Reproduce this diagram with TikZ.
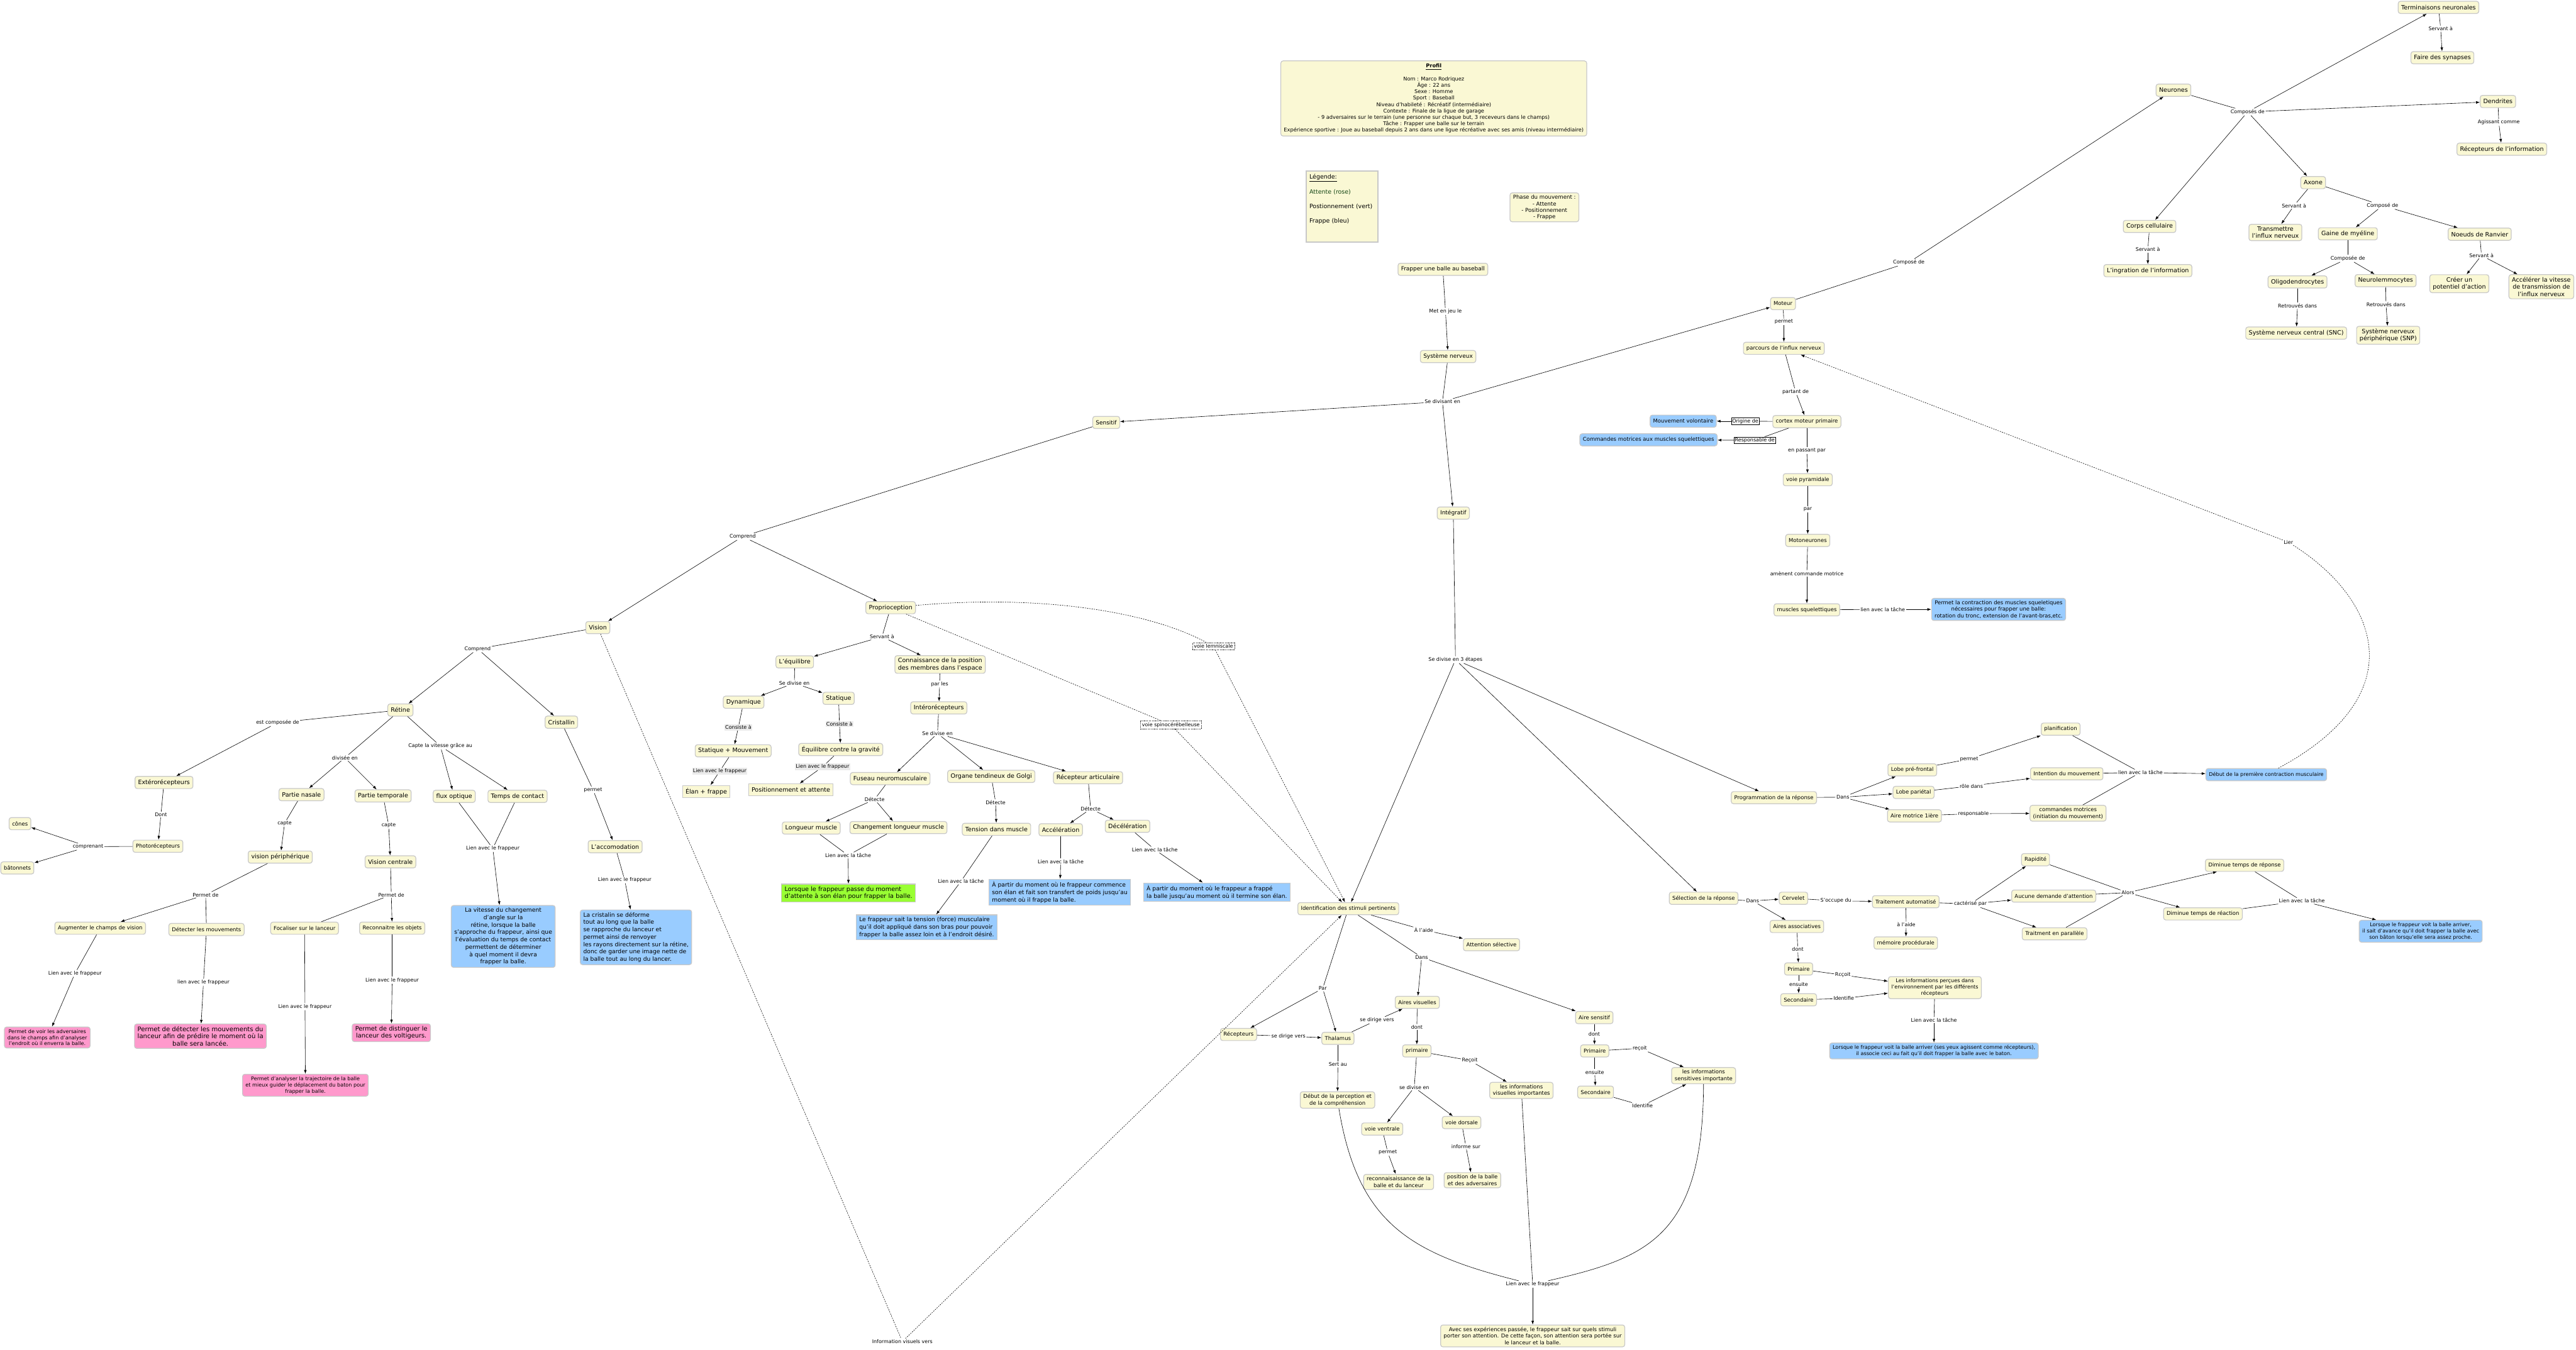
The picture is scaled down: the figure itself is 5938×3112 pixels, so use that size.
\documentclass[tikz,border=0pt]{standalone}
\usepackage{fontspec}
\setmainfont{DejaVu Sans}
\usepackage{xcolor}
\usepackage{tikz}
\usetikzlibrary{arrows.meta,shapes}

\definecolor{cmapyellow}{RGB}{250,248,212}
\definecolor{cmapgray}{RGB}{200,200,200}
\definecolor{frappeblue}{RGB}{153,204,255}
\definecolor{attentepink}{RGB}{255,153,204}
\definecolor{positiongreen}{RGB}{153,255,51}
\definecolor{legendgreen}{RGB}{20,70,20}

\newcommand{\cmapfont}{\fontsize{7.0}{8.5}\selectfont}
\newcommand{\cmapbigfont}{\fontsize{7.9}{9.6}\selectfont}
\newcommand{\cmaplinkfont}{\fontsize{6.6}{7.9}\selectfont}
\newcommand{\cmapsmallfont}{\fontsize{6.7}{8.2}\selectfont}
\newcommand{\cmaptextfont}{\fontsize{7.6}{9.7}\selectfont}

\begin{document}
\begin{tikzpicture}[x=0.2mm, y={(0,-0.2mm)},
    concept/.style={rectangle, draw=cmapgray, line width=1pt, rounded corners=3pt, fill=cmapyellow, align=center, font=\cmapfont, inner xsep=4pt, inner ysep=3pt, minimum height=16pt},
    bigconcept/.style={concept, font=\cmapbigfont},
    frappebox/.style={concept, fill=frappeblue},
    attentebox/.style={concept, fill=attentepink},
    positionbox/.style={concept, fill=positiongreen, sharp corners},
    squarebox/.style={concept, sharp corners},
    linkword/.style={font=\cmaplinkfont, inner sep=1.2pt},
    boxedword/.style={linkword, draw, line width=0.4pt},
    dashword/.style={linkword, draw, dash pattern=on 1pt off 1pt, line width=0.3pt, inner sep=2pt},
    greyword/.style={linkword, fill=black!8},
    link/.style={line width=0.5pt},
    linkarrow/.style={link, -{Latex[length=5pt,width=3.6pt]}},
    dotlink/.style={link, dash pattern=on 1.6pt off 1.4pt}
]
    \useasboundingbox (0,0) rectangle (5938,3112);

    % Profil, legende et phases
    \node[concept, font=\fontsize{6.8}{8.4}\selectfont, inner ysep=4pt] (profil) at (3305,227) {\underline{\textbf{Profil}}\\[8.4pt]Nom : Marco Rodriquez\\Âge : 22 ans\\Sexe : Homme\\Sport : Baseball\\Niveau d'habileté : Récréatif (intermédiaire)\\Contexte : Finale de la ligue de garage\\- 9 adversaires sur le terrain (une personne sur chaque but, 3 receveurs dans le champs)\\Tâche : Frapper une balle sur le terrain\\Expérience sportive : Joue au baseball depuis 2 ans dans une ligue récréative avec ses amis (niveau intermédiaire)};
    \node[squarebox, line width=1.6pt, font=\fontsize{7.8}{9.4}\selectfont, align=left, text width=86pt, anchor=north west, inner sep=4pt] (legende) at (3010,393) {\underline{Légende:}\\[9.4pt]\textcolor{legendgreen}{Attente (rose)}\\[9.4pt]Postionnement (vert)\\[9.4pt]Frappe (bleu)\\[12pt]\mbox{}};
    \node[concept, font=\fontsize{7.1}{8.4}\selectfont] (phases) at (3560,478) {Phase du mouvement :\\- Attente\\- Positionnement\\- Frappe};

    % Systeme nerveux
    \node[bigconcept, font=\fontsize{7.4}{9}\selectfont] (frapper) at (3326,621) {Frapper une balle au baseball};
    \node[linkword] (lMetJeu) at (3332,718) {Met en jeu le};
    \node[bigconcept, font=\fontsize{7.4}{9}\selectfont] (sysnerv) at (3338,822) {Système nerveux};
    \node[linkword] (lDivisant) at (3325,926) {Se divisant en};
    \node[bigconcept, font=\fontsize{7.4}{9}\selectfont] (sensitif) at (2550,974) {Sensitif};
    \node[bigconcept, font=\fontsize{7.4}{9}\selectfont] (integratif) at (3350,1183) {Intégratif};
    \node[concept] (moteur) at (4110,700) {Moteur};

    % Neurones
    \node[bigconcept] (neurones) at (5010,208) {Neurones};
    \node[linkword] (lComposeMot) at (4400,605) {Composé de};
    \node[linkword] (lComposes) at (5181,258) {Composés de};
    \node[bigconcept] (term) at (5621,17) {Terminaisons neuronales};
    \node[linkword] (lServT) at (5626,66) {Servant à};
    \node[bigconcept] (synapses) at (5630,133) {Faire des synapses};
    \node[bigconcept] (dendrites) at (5758,234) {Dendrites};
    \node[linkword] (lAgiss) at (5760,282) {Agissant comme};
    \node[bigconcept] (recinfo) at (5767,344) {Récepteurs de l'information};
    \node[bigconcept] (axone) at (5332,421) {Axone};
    \node[linkword] (lServAx) at (5288,474) {Servant à};
    \node[linkword] (lComposeAx) at (5492,474) {Composé de};
    \node[bigconcept] (corps) at (4955,522) {Corps cellulaire};
    \node[bigconcept] (transm) at (5245,536) {Transmettre\\l'influx nerveux};
    \node[bigconcept] (gaine) at (5412,539) {Gaine de myéline};
    \node[bigconcept] (ranvier) at (5716,540) {Noeuds de Ranvier};
    \node[linkword] (lServCorps) at (4951,575) {Servant à};
    \node[linkword] (lComposee) at (5412,596) {Composée de};
    \node[linkword] (lServRanv) at (5720,589) {Servant à};
    \node[bigconcept] (ingration) at (4951,624) {L'ingration de l'information};
    \node[bigconcept] (oligo) at (5296,650) {Oligodendrocytes};
    \node[bigconcept] (neurolem) at (5499,647) {Neurolemmocytes};
    \node[bigconcept] (potentiel) at (5669,654) {Créer un\\potentiel d'action};
    \node[bigconcept] (accel2) at (5858,661) {Accélérer la vitesse\\de transmission de\\l'influx nerveux};
    \node[linkword] (lRetr1) at (5296,705) {Retrouvés dans};
    \node[linkword] (lRetr2) at (5500,702) {Retrouvés dans};
    \node[bigconcept] (snc) at (5293,768) {Système nerveux central (SNC)};
    \node[bigconcept] (snp) at (5505,773) {Système nerveux\\périphérique (SNP)};

    % Voie motrice
    \node[linkword] (lPermetMot) at (4112,742) {permet};
    \node[concept] (parcours) at (4112,803) {parcours de l'influx nerveux};
    \node[linkword] (lPartant) at (4139,903) {partant de};
    \node[concept] (cortex) at (4165,972) {cortex moteur primaire};
    \node[boxedword] (lOrigine) at (4023,971) {Origine de};
    \node[frappebox] (volont) at (3880,971) {Mouvement volontaire};
    \node[boxedword] (lRespons) at (4045,1015) {Responsable de};
    \node[frappebox] (cmdsq) at (3800,1014) {Commandes motrices aux muscles squelettiques};
    \node[linkword] (lPassant) at (4165,1039) {en passant par};
    \node[concept] (pyram) at (4167,1106) {voie pyramidale};
    \node[linkword] (lPar) at (4167,1174) {par};
    \node[concept] (motoneur) at (4167,1246) {Motoneurones};
    \node[linkword] (lAmenent) at (4165,1322) {amènent commande motrice};
    \node[concept] (musclesq) at (4165,1406) {muscles squelettiques};
    \node[linkword] (lLienMus) at (4340,1405) {lien avec la tâche};
    \node[frappebox] (contraction) at (4607,1405) {Permet la contraction des muscles squeletiques\\nécessaires pour frapper une balle:\\rotation du tronc, extension de l'avant-bras,etc.};
    \node[linkword] (lLier) at (5275,1250) {Lier};

    % Integratif : programmation et selection
    \node[linkword] (lTrois) at (3355,1521) {Se divise en 3 étapes};
    \node[concept] (progrep) at (4089,1839) {Programmation de la réponse};
    \node[linkword] (lDansProg) at (4248,1838) {Dans};
    \node[concept] (lobepref) at (4408,1775) {Lobe pré-frontal};
    \node[concept] (lobepar) at (4411,1827) {Lobe pariétal};
    \node[concept] (airemot) at (4413,1881) {Aire motrice 1ière};
    \node[linkword] (lPermetLobe) at (4539,1750) {permet};
    \node[linkword] (lRole) at (4544,1812) {rôle dans};
    \node[linkword] (lRespAire) at (4549,1876) {responsable};
    \node[concept] (planif) at (4750,1681) {planification};
    \node[concept] (intention) at (4764,1784) {Intention du mouvement};
    \node[concept] (cmdmot) at (4767,1875) {commandes motrices\\(initiation du mouvement)};
    \node[linkword] (lLienProg) at (4934,1781) {lien avec la tâche};
    \node[frappebox, font=\cmapsmallfont] (debutcontr) at (5224,1786) {Début de la première contraction musculaire};

    \node[concept] (selrep) at (3927,2071) {Sélection de la réponse};
    \node[linkword] (lDansSel) at (4040,2077) {Dans};
    \node[concept] (cervelet) at (4134,2071) {Cervelet};
    \node[linkword] (lOccupe) at (4232,2077) {S'occupe du};
    \node[concept] (traitauto) at (4393,2079) {Traitement automatisé};
    \node[linkword] (lCaract) at (4542,2084) {cactérisé par};
    \node[concept] (rapidite) at (4692,1982) {Rapidité};
    \node[concept] (aucune) at (4734,2066) {Aucune demande d'attention};
    \node[concept] (parallele) at (4736,2153) {Traitment en parallèle};
    \node[linkword] (lAlors) at (4905,2058) {Alors};
    \node[concept] (dimrep) at (5174,1995) {Diminue temps de réponse};
    \node[concept] (dimreac) at (5078,2107) {Diminue temps de réaction};
    \node[linkword] (lLienSel) at (5306,2077) {Lien avec la tâche};
    \node[frappebox, font=\cmapsmallfont] (bluesel) at (5580,2147) {Lorsque le frappeur voit la balle arriver,\\il sait d'avance qu'il doit frapper la balle avec\\son bâton lorsqu'elle sera assez proche.};
    \node[concept] (airesasso) at (4142,2136) {Aires associatives};
    \node[linkword] (lAideMem) at (4394,2132) {à l'aide};
    \node[concept] (memproc) at (4393,2174) {mémoire procédurale};
    \node[linkword] (lDontAsso) at (4144,2189) {dont};
    \node[concept] (primA) at (4146,2234) {Primaire};
    \node[linkword] (lRecoitA) at (4248,2248) {Rcçoit};
    \node[linkword] (lEnsuiteA) at (4146,2269) {ensuite};
    \node[concept, font=\cmapsmallfont] (infoperc) at (4460,2277) {Les informations perçues dans\\l'environnement par les différents\\récepteurs};
    \node[concept] (secA) at (4146,2305) {Secondaire};
    \node[linkword] (lIdentA) at (4250,2302) {Identifie};
    \node[linkword] (lLienInfo) at (4458,2352) {Lien avec la tâche};
    \node[frappebox, font=\cmapsmallfont] (bluerecep) at (4458,2423) {Lorsque le frappeur voit la balle arriver (ses yeux agissent comme récepteurs),\\il associe ceci au fait qu'il doit frapper la balle avec le baton.};

    % Sensitif
    \node[linkword] (lComprendS) at (1712,1237) {Comprend};
    \node[bigconcept] (vision) at (1378,1447) {Vision};
    \node[bigconcept] (proprio) at (2053,1401) {Proprioception};

    % Vision
    \node[linkword] (lComprendV) at (1101,1496) {Comprend};
    \node[bigconcept] (retine) at (923,1637) {Rétine};
    \node[bigconcept] (cristallin) at (1294,1665) {Cristallin};
    \node[linkword] (lEstComp) at (640,1666) {est composée de};
    \node[linkword] (lCapteVit) at (1015,1720) {Capte la vitesse grâce au};
    \node[linkword] (lDivisee) at (795,1747) {divisée en};
    \node[bigconcept] (extero) at (378,1804) {Extérorécepteurs};
    \node[bigconcept] (nasale) at (695,1832) {Partie nasale};
    \node[bigconcept] (temporale) at (883,1835) {Partie temporale};
    \node[bigconcept] (fluxopt) at (1047,1836) {flux optique};
    \node[bigconcept] (tempscont) at (1193,1836) {Temps de contact};
    \node[linkword] (lPermetCr) at (1367,1821) {permet};
    \node[bigconcept] (accomod) at (1418,1952) {L'accomodation};
    \node[linkword] (lDont) at (371,1878) {Dont};
    \node[linkword] (lCapteN) at (656,1898) {capte};
    \node[linkword] (lCapteT) at (896,1903) {capte};
    \node[concept] (cones) at (46,1899) {cônes};
    \node[concept] (photo) at (364,1951) {Photorécepteurs};
    \node[linkword] (lComprenant) at (203,1952) {comprenant};
    \node[concept] (batonnets) at (40,2001) {bâtonnets};
    \node[bigconcept] (periph) at (646,1976) {vision périphérique};
    \node[bigconcept] (centrale) at (900,1987) {Vision centrale};
    \node[linkword] (lPermetP) at (474,2063) {Permet de};
    \node[linkword] (lPermetC) at (902,2063) {Permet de};
    \node[concept] (augmenter) at (231,2140) {Augmenter le champs de vision};
    \node[concept] (detecter) at (476,2143) {Détecter les mouvements};
    \node[concept] (focaliser) at (702,2140) {Focaliser sur le lanceur};
    \node[concept] (reconnaitre) at (904,2140) {Reconnaitre les objets};
    \node[linkword] (lLienFlux) at (1136,1956) {Lien avec le frappeur};
    \node[linkword] (lLienAcc) at (1440,2029) {Lien avec le frappeur};
    \node[frappebox, font=\cmaptextfont] (blueflux) at (1160,2159) {La vitesse du changement\\d'angle sur la\\rétine, lorsque la balle\\s'approche du frappeur, ainsi que\\l'évaluation du temps de contact\\permettent de déterminer\\à quel moment il devra\\frapper la balle.};
    \node[frappebox, font=\cmaptextfont, align=left] (bluecrist) at (1466,2161) {La cristalin se déforme\\tout au long que la balle\\se rapproche du lanceur et\\permet ainsi de renvoyer\\les rayons directement sur la rétine,\\donc de garder une image nette de\\la balle tout au long du lancer.};
    \node[linkword] (lLienAug) at (173,2244) {Lien avec le frappeur};
    \node[linkword] (lLienDet) at (469,2265) {lien avec le frappeur};
    \node[linkword] (lLienRec) at (904,2260) {Lien avec le frappeur};
    \node[linkword] (lLienFoc) at (703,2321) {Lien avec le frappeur};
    \node[attentebox, font=\cmapsmallfont] (pinkaug) at (109,2392) {Permet de voir les adversaires\\dans le champs afin d'analyser\\l'endroit où il enverra la balle.};
    \node[attentebox, font=\fontsize{8.3}{9.6}\selectfont] (pinkdet) at (462,2389) {Permet de détecter les mouvements du\\lanceur afin de prédire le moment où la\\balle sera lancée.};
    \node[attentebox, font=\fontsize{8.1}{9.6}\selectfont] (pinkrec) at (902,2381) {Permet de distinguer le\\lanceur des voltigeurs.};
    \node[attentebox, font=\cmapsmallfont] (pinkfoc) at (704,2502) {Permet d'analyser la trajectoire de la balle\\et mieux guider le déplacement du baton pour\\frapper la balle.};

    % Proprioception
    \node[linkword] (lServProp) at (2033,1468) {Servant à};
    \node[bigconcept] (equilibre) at (1832,1526) {L'équilibre};
    \node[bigconcept] (connaiss) at (2167,1532) {Connaissance de la position\\des membres dans l'espace};
    \node[linkword] (lDiviseEq) at (1831,1575) {Se divise en};
    \node[linkword] (lParLes) at (2166,1577) {par les};
    \node[bigconcept] (dynamique) at (1714,1619) {Dynamique};
    \node[bigconcept] (statique) at (1933,1610) {Statique};
    \node[bigconcept] (intero) at (2164,1632) {Intérorécepteurs};
    \node[greyword] (lConsDyn) at (1702,1677) {Consiste à};
    \node[greyword] (lConsStat) at (1935,1669) {Consiste à};
    \node[linkword] (lDiviseInt) at (2161,1691) {Se divise en};
    \node[bigconcept] (statmouv) at (1690,1731) {Statique + Mouvement};
    \node[bigconcept] (eqgrav) at (1938,1728) {Équilibre contre la gravité};
    \node[greyword] (lLienDyn) at (1659,1778) {Lien avec le frappeur};
    \node[greyword] (lLienStat) at (1896,1768) {Lien avec le frappeur};
    \node[squarebox, font=\cmapbigfont] (elan) at (1628,1825) {Élan + frappe};
    \node[squarebox, font=\cmapbigfont] (posatt) at (1823,1821) {Positionnement et attente};
    \node[bigconcept] (fuseau) at (2052,1795) {Fuseau neuromusculaire};
    \node[bigconcept] (golgi) at (2285,1790) {Organe tendineux de Golgi};
    \node[bigconcept] (artic) at (2508,1793) {Récepteur articulaire};
    \node[linkword] (lDetF) at (2016,1843) {Détecte};
    \node[linkword] (lDetG) at (2295,1850) {Détecte};
    \node[linkword] (lDetA) at (2514,1865) {Détecte};
    \node[bigconcept] (longueur) at (1870,1909) {Longueur muscle};
    \node[bigconcept] (changement) at (2071,1908) {Changement longueur muscle};
    \node[bigconcept] (tension) at (2297,1912) {Tension dans muscle};
    \node[bigconcept] (acceleration) at (2445,1913) {Accélération};
    \node[bigconcept] (deceleration) at (2599,1905) {Décélération};
    \node[linkword] (lLienDecel) at (2662,1959) {Lien avec la tâche};
    \node[linkword] (lLienLong) at (1955,1972) {Lien avec la tâche};
    \node[linkword] (lLienAccel) at (2445,1986) {Lien avec la tâche};
    \node[linkword] (lLienTens) at (2215,2032) {Lien avec la tâche};
    \node[positionbox, font=\fontsize{8}{9.8}\selectfont, align=left] (greenlong) at (1956,2059) {Lorsque le frappeur passe du moment\\d'attente à son élan pour frapper la balle.};
    \node[frappebox, sharp corners, font=\cmaptextfont, align=left] (blueaccel) at (2443,2057) {À partir du moment où le frappeur commence\\son élan et fait son transfert de poids jusqu'au\\moment où il frappe la balle.};
    \node[frappebox, sharp corners, font=\cmaptextfont, align=left] (bluedecel) at (2805,2057) {À partir du moment où le frappeur a frappé\\la balle jusqu'au moment où il termine son élan.};
    \node[frappebox, sharp corners, font=\cmaptextfont, align=left] (bluetens) at (2136,2138) {Le frappeur sait la tension (force) musculaire\\qu'il doit appliqué dans son bras pour pouvoir\\frapper la balle assez loin et à l'endroit désiré.};
    \node[dashword] (lLemnisc) at (2797,1490) {voie lemniscale};
    \node[dashword] (lSpino) at (2699,1671) {voie spinocérébelleuse};

    % Identification des stimuli
    \node[concept] (ident) at (3108,2095) {Identification des stimuli pertinents};
    \node[linkword] (lAide) at (3282,2144) {À l'aide};
    \node[concept] (attention) at (3438,2178) {Attention sélective};
    \node[linkword] (lDansId) at (3277,2207) {Dans};
    \node[linkword] (lParId) at (3049,2279) {Par};
    \node[concept] (airesvis) at (3267,2311) {Aires visuelles};
    \node[concept] (airesens) at (3675,2346) {Aire sensitif};
    \node[linkword] (lDirige2) at (3174,2352) {se dirige vers};
    \node[linkword] (lDontV) at (3266,2368) {dont};
    \node[linkword] (lDontS) at (3675,2384) {dont};
    \node[concept] (recepteurs) at (2855,2385) {Récepteurs};
    \node[linkword] (lDirige1) at (2970,2389) {se dirige vers};
    \node[concept] (thalamus) at (3084,2394) {Thalamus};
    \node[concept] (primV) at (3266,2423) {primaire};
    \node[concept] (primS) at (3676,2423) {Primaire};
    \node[linkword] (lRecoitS) at (3780,2417) {reçoit};
    \node[linkword] (lRecoitV) at (3388,2445) {Reçoit};
    \node[linkword] (lSertAu) at (3084,2454) {Sert au};
    \node[linkword] (lEnsuiteS) at (3676,2472) {ensuite};
    \node[concept] (infosens) at (3927,2480) {les informations\\sensitives importante};
    \node[linkword] (lDiviseV) at (3260,2507) {se divise en};
    \node[concept] (infovis) at (3507,2514) {les informations\\visuelles importantes};
    \node[concept] (secS) at (3678,2518) {Secondaire};
    \node[linkword] (lIdentS) at (3786,2549) {Identifie};
    \node[concept] (debutperc) at (3083,2536) {Début de la perception et\\de la compréhension};
    \node[concept] (ventrale) at (3186,2603) {voie ventrale};
    \node[concept] (dorsale) at (3369,2588) {voie dorsale};
    \node[linkword] (lInforme) at (3379,2643) {informe sur};
    \node[linkword] (lPermetV) at (3199,2657) {permet};
    \node[concept] (reconn) at (3224,2725) {reconnaisaissance de la\\balle et du lanceur};
    \node[concept] (posballe) at (3394,2721) {position de la balle\\et des adversaires};
    \node[linkword] (lLienFrap) at (3533,2961) {Lien avec le frappeur};
    \node[concept] (avec) at (3533,3080) {Avec ses expériences passée, le frappeur sait sur quels stimuli\\porter son attention. De cette façon, son attention sera portée sur\\le lanceur et la balle.};
    \node[linkword] (lInfoVis) at (2080,3093) {Information visuels vers};

    % Liens : systeme nerveux
    \draw[link] (frapper) -- (lMetJeu);
    \draw[linkarrow] (lMetJeu) -- (sysnerv);
    \draw[link] (sysnerv) -- (lDivisant);
    \draw[linkarrow] (lDivisant) -- (sensitif);
    \draw[linkarrow] (lDivisant) -- (integratif);
    \draw[linkarrow] (lDivisant) -- (moteur);

    % Liens : neurones
    \draw[link] (moteur) -- (lComposeMot);
    \draw[linkarrow] (lComposeMot) -- (neurones);
    \draw[link] (neurones) -- (lComposes);
    \draw[linkarrow] (lComposes) -- (term);
    \draw[linkarrow] (lComposes) -- (dendrites);
    \draw[linkarrow] (lComposes) -- (axone);
    \draw[linkarrow] (lComposes) -- (corps);
    \draw[link] (term) -- (lServT);
    \draw[linkarrow] (lServT) -- (synapses);
    \draw[link] (dendrites) -- (lAgiss);
    \draw[linkarrow] (lAgiss) -- (recinfo);
    \draw[link] (axone) -- (lServAx);
    \draw[linkarrow] (lServAx) -- (transm);
    \draw[link] (axone) -- (lComposeAx);
    \draw[linkarrow] (lComposeAx) -- (gaine);
    \draw[linkarrow] (lComposeAx) -- (ranvier);
    \draw[link] (corps) -- (lServCorps);
    \draw[linkarrow] (lServCorps) -- (ingration);
    \draw[link] (gaine) -- (lComposee);
    \draw[linkarrow] (lComposee) -- (oligo);
    \draw[linkarrow] (lComposee) -- (neurolem);
    \draw[link] (ranvier) -- (lServRanv);
    \draw[linkarrow] (lServRanv) -- (potentiel);
    \draw[linkarrow] (lServRanv) -- (accel2);
    \draw[link] (oligo) -- (lRetr1);
    \draw[linkarrow] (lRetr1) -- (snc);
    \draw[link] (neurolem) -- (lRetr2);
    \draw[linkarrow] (lRetr2) -- (snp);

    % Liens : voie motrice
    \draw[link] (moteur) -- (lPermetMot);
    \draw[linkarrow] (lPermetMot) -- (parcours);
    \draw[link] (parcours) -- (lPartant);
    \draw[linkarrow] (lPartant) -- (cortex);
    \draw[link] (cortex) -- (lOrigine);
    \draw[linkarrow] (lOrigine) -- (volont);
    \draw[link] (cortex) -- (lRespons);
    \draw[linkarrow] (lRespons) -- (cmdsq);
    \draw[link] (cortex) -- (lPassant);
    \draw[linkarrow] (lPassant) -- (pyram);
    \draw[link] (pyram) -- (lPar);
    \draw[linkarrow] (lPar) -- (motoneur);
    \draw[link] (motoneur) -- (lAmenent);
    \draw[linkarrow] (lAmenent) -- (musclesq);
    \draw[link] (musclesq) -- (lLienMus);
    \draw[linkarrow] (lLienMus) -- (contraction);
    \draw[dotlink] (debutcontr) .. controls (5570,1600) and (5480,1380) .. (lLier);
    \draw[dotlink, -{Latex[length=5pt,width=3.6pt]}] (lLier) -- (parcours);

    % Liens : integratif
    \draw[link] (integratif) -- (lTrois);
    \draw[linkarrow] (lTrois) -- (ident);
    \draw[linkarrow] (lTrois) -- (progrep);
    \draw[linkarrow] (lTrois) -- (selrep);
    \draw[link] (progrep) -- (lDansProg);
    \draw[linkarrow] (lDansProg) -- (lobepref);
    \draw[linkarrow] (lDansProg) -- (lobepar);
    \draw[linkarrow] (lDansProg) -- (airemot);
    \draw[link] (lobepref) -- (lPermetLobe);
    \draw[linkarrow] (lPermetLobe) -- (planif);
    \draw[link] (lobepar) -- (lRole);
    \draw[linkarrow] (lRole) -- (intention);
    \draw[link] (airemot) -- (lRespAire);
    \draw[linkarrow] (lRespAire) -- (cmdmot);
    \draw[link] (planif) -- (lLienProg);
    \draw[link] (intention) -- (lLienProg);
    \draw[link] (cmdmot) -- (lLienProg);
    \draw[linkarrow] (lLienProg) -- (debutcontr);
    \draw[link] (selrep) -- (lDansSel);
    \draw[linkarrow] (lDansSel) -- (cervelet);
    \draw[linkarrow] (lDansSel) -- (airesasso);
    \draw[link] (cervelet) -- (lOccupe);
    \draw[linkarrow] (lOccupe) -- (traitauto);
    \draw[link] (traitauto) -- (lCaract);
    \draw[linkarrow] (lCaract) -- (rapidite);
    \draw[linkarrow] (lCaract) -- (aucune);
    \draw[linkarrow] (lCaract) -- (parallele);
    \draw[link] (traitauto) -- (lAideMem);
    \draw[linkarrow] (lAideMem) -- (memproc);
    \draw[link] (rapidite) -- (lAlors);
    \draw[link] (aucune) -- (lAlors);
    \draw[link] (parallele) -- (lAlors);
    \draw[linkarrow] (lAlors) -- (dimrep);
    \draw[linkarrow] (lAlors) -- (dimreac);
    \draw[link] (dimrep) -- (lLienSel);
    \draw[link] (dimreac) -- (lLienSel);
    \draw[linkarrow] (lLienSel) -- (bluesel);
    \draw[link] (airesasso) -- (lDontAsso);
    \draw[linkarrow] (lDontAsso) -- (primA);
    \draw[link] (primA) -- (lRecoitA);
    \draw[linkarrow] (lRecoitA) -- (infoperc);
    \draw[link] (primA) -- (lEnsuiteA);
    \draw[linkarrow] (lEnsuiteA) -- (secA);
    \draw[link] (secA) -- (lIdentA);
    \draw[linkarrow] (lIdentA) -- (infoperc);
    \draw[link] (infoperc) -- (lLienInfo);
    \draw[linkarrow] (lLienInfo) -- (bluerecep);

    % Liens : sensitif et vision
    \draw[link] (sensitif) -- (lComprendS);
    \draw[linkarrow] (lComprendS) -- (vision);
    \draw[linkarrow] (lComprendS) -- (proprio);
    \draw[link] (vision) -- (lComprendV);
    \draw[linkarrow] (lComprendV) -- (retine);
    \draw[linkarrow] (lComprendV) -- (cristallin);
    \draw[link] (retine) -- (lEstComp);
    \draw[linkarrow] (lEstComp) -- (extero);
    \draw[link] (retine) -- (lDivisee);
    \draw[linkarrow] (lDivisee) -- (nasale);
    \draw[linkarrow] (lDivisee) -- (temporale);
    \draw[link] (retine) -- (lCapteVit);
    \draw[linkarrow] (lCapteVit) -- (fluxopt);
    \draw[linkarrow] (lCapteVit) -- (tempscont);
    \draw[link] (cristallin) -- (lPermetCr);
    \draw[linkarrow] (lPermetCr) -- (accomod);
    \draw[link] (extero) -- (lDont);
    \draw[linkarrow] (lDont) -- (photo);
    \draw[link] (photo) -- (lComprenant);
    \draw[linkarrow] (lComprenant) -- (cones);
    \draw[linkarrow] (lComprenant) -- (batonnets);
    \draw[link] (nasale) -- (lCapteN);
    \draw[linkarrow] (lCapteN) -- (periph);
    \draw[link] (temporale) -- (lCapteT);
    \draw[linkarrow] (lCapteT) -- (centrale);
    \draw[link] (periph) -- (lPermetP);
    \draw[linkarrow] (lPermetP) -- (augmenter);
    \draw[link] (lPermetP) -- (detecter);
    \draw[link] (centrale) -- (lPermetC);
    \draw[link] (lPermetC) -- (focaliser);
    \draw[linkarrow] (lPermetC) -- (reconnaitre);
    \draw[link] (fluxopt) -- (lLienFlux);
    \draw[link] (tempscont) -- (lLienFlux);
    \draw[linkarrow] (lLienFlux) -- (blueflux);
    \draw[link] (accomod) -- (lLienAcc);
    \draw[linkarrow] (lLienAcc) -- (bluecrist);
    \draw[link] (augmenter) -- (lLienAug);
    \draw[linkarrow] (lLienAug) -- (pinkaug);
    \draw[link] (detecter) -- (lLienDet);
    \draw[linkarrow] (lLienDet) -- (pinkdet);
    \draw[link] (focaliser) -- (lLienFoc);
    \draw[linkarrow] (lLienFoc) -- (pinkfoc);
    \draw[link] (reconnaitre) -- (lLienRec);
    \draw[linkarrow] (lLienRec) -- (pinkrec);
    \draw[dotlink] (vision) -- (lInfoVis);
    \draw[dotlink, -{Latex[length=5pt,width=3.6pt]}] (lInfoVis) -- (ident);

    % Liens : proprioception
    \draw[link] (proprio) -- (lServProp);
    \draw[linkarrow] (lServProp) -- (equilibre);
    \draw[linkarrow] (lServProp) -- (connaiss);
    \draw[link] (equilibre) -- (lDiviseEq);
    \draw[linkarrow] (lDiviseEq) -- (dynamique);
    \draw[linkarrow] (lDiviseEq) -- (statique);
    \draw[link] (connaiss) -- (lParLes);
    \draw[linkarrow] (lParLes) -- (intero);
    \draw[link] (dynamique) -- (lConsDyn);
    \draw[linkarrow] (lConsDyn) -- (statmouv);
    \draw[link] (statique) -- (lConsStat);
    \draw[linkarrow] (lConsStat) -- (eqgrav);
    \draw[link] (statmouv) -- (lLienDyn);
    \draw[linkarrow] (lLienDyn) -- (elan);
    \draw[link] (eqgrav) -- (lLienStat);
    \draw[linkarrow] (lLienStat) -- (posatt);
    \draw[link] (intero) -- (lDiviseInt);
    \draw[linkarrow] (lDiviseInt) -- (fuseau);
    \draw[linkarrow] (lDiviseInt) -- (golgi);
    \draw[linkarrow] (lDiviseInt) -- (artic);
    \draw[link] (fuseau) -- (lDetF);
    \draw[linkarrow] (lDetF) -- (longueur);
    \draw[linkarrow] (lDetF) -- (changement);
    \draw[link] (golgi) -- (lDetG);
    \draw[linkarrow] (lDetG) -- (tension);
    \draw[link] (artic) -- (lDetA);
    \draw[linkarrow] (lDetA) -- (acceleration);
    \draw[linkarrow] (lDetA) -- (deceleration);
    \draw[link] (longueur) -- (lLienLong);
    \draw[link] (changement) -- (lLienLong);
    \draw[linkarrow] (lLienLong) -- (greenlong);
    \draw[link] (tension) -- (lLienTens);
    \draw[linkarrow] (lLienTens) -- (bluetens);
    \draw[link] (acceleration) -- (lLienAccel);
    \draw[linkarrow] (lLienAccel) -- (blueaccel);
    \draw[link] (deceleration) -- (lLienDecel);
    \draw[linkarrow] (lLienDecel) -- (bluedecel);
    \draw[dotlink] (proprio) .. controls (2400,1370) and (2650,1410) .. (lLemnisc);
    \draw[dotlink, -{Latex[length=5pt,width=3.6pt]}] (lLemnisc) -- (ident);
    \draw[dotlink] (proprio) -- (lSpino);
    \draw[dotlink, -{Latex[length=5pt,width=3.6pt]}] (lSpino) -- (ident);

    % Liens : identification des stimuli
    \draw[link] (ident) -- (lAide);
    \draw[linkarrow] (lAide) -- (attention);
    \draw[link] (ident) -- (lDansId);
    \draw[linkarrow] (lDansId) -- (airesvis);
    \draw[linkarrow] (lDansId) -- (airesens);
    \draw[link] (ident) -- (lParId);
    \draw[linkarrow] (lParId) -- (recepteurs);
    \draw[linkarrow] (lParId) -- (thalamus);
    \draw[link] (recepteurs) -- (lDirige1);
    \draw[linkarrow] (lDirige1) -- (thalamus);
    \draw[link] (thalamus) -- (lDirige2);
    \draw[linkarrow] (lDirige2) -- (airesvis);
    \draw[link] (thalamus) -- (lSertAu);
    \draw[linkarrow] (lSertAu) -- (debutperc);
    \draw[link] (airesvis) -- (lDontV);
    \draw[linkarrow] (lDontV) -- (primV);
    \draw[link] (primV) -- (lRecoitV);
    \draw[linkarrow] (lRecoitV) -- (infovis);
    \draw[link] (primV) -- (lDiviseV);
    \draw[linkarrow] (lDiviseV) -- (ventrale);
    \draw[linkarrow] (lDiviseV) -- (dorsale);
    \draw[link] (ventrale) -- (lPermetV);
    \draw[linkarrow] (lPermetV) -- (reconn);
    \draw[link] (dorsale) -- (lInforme);
    \draw[linkarrow] (lInforme) -- (posballe);
    \draw[link] (airesens) -- (lDontS);
    \draw[linkarrow] (lDontS) -- (primS);
    \draw[link] (primS) -- (lRecoitS);
    \draw[linkarrow] (lRecoitS) -- (infosens);
    \draw[link] (primS) -- (lEnsuiteS);
    \draw[linkarrow] (lEnsuiteS) -- (secS);
    \draw[link] (secS) -- (lIdentS);
    \draw[linkarrow] (lIdentS) -- (infosens);
    \draw[link] (debutperc) .. controls (3130,2820) and (3250,2890) .. (lLienFrap);
    \draw[link] (infovis) -- (lLienFrap);
    \draw[link] (infosens) .. controls (3925,2850) and (3800,2900) .. (lLienFrap);
    \draw[linkarrow] (lLienFrap) -- (avec);
\end{tikzpicture}
\end{document}
